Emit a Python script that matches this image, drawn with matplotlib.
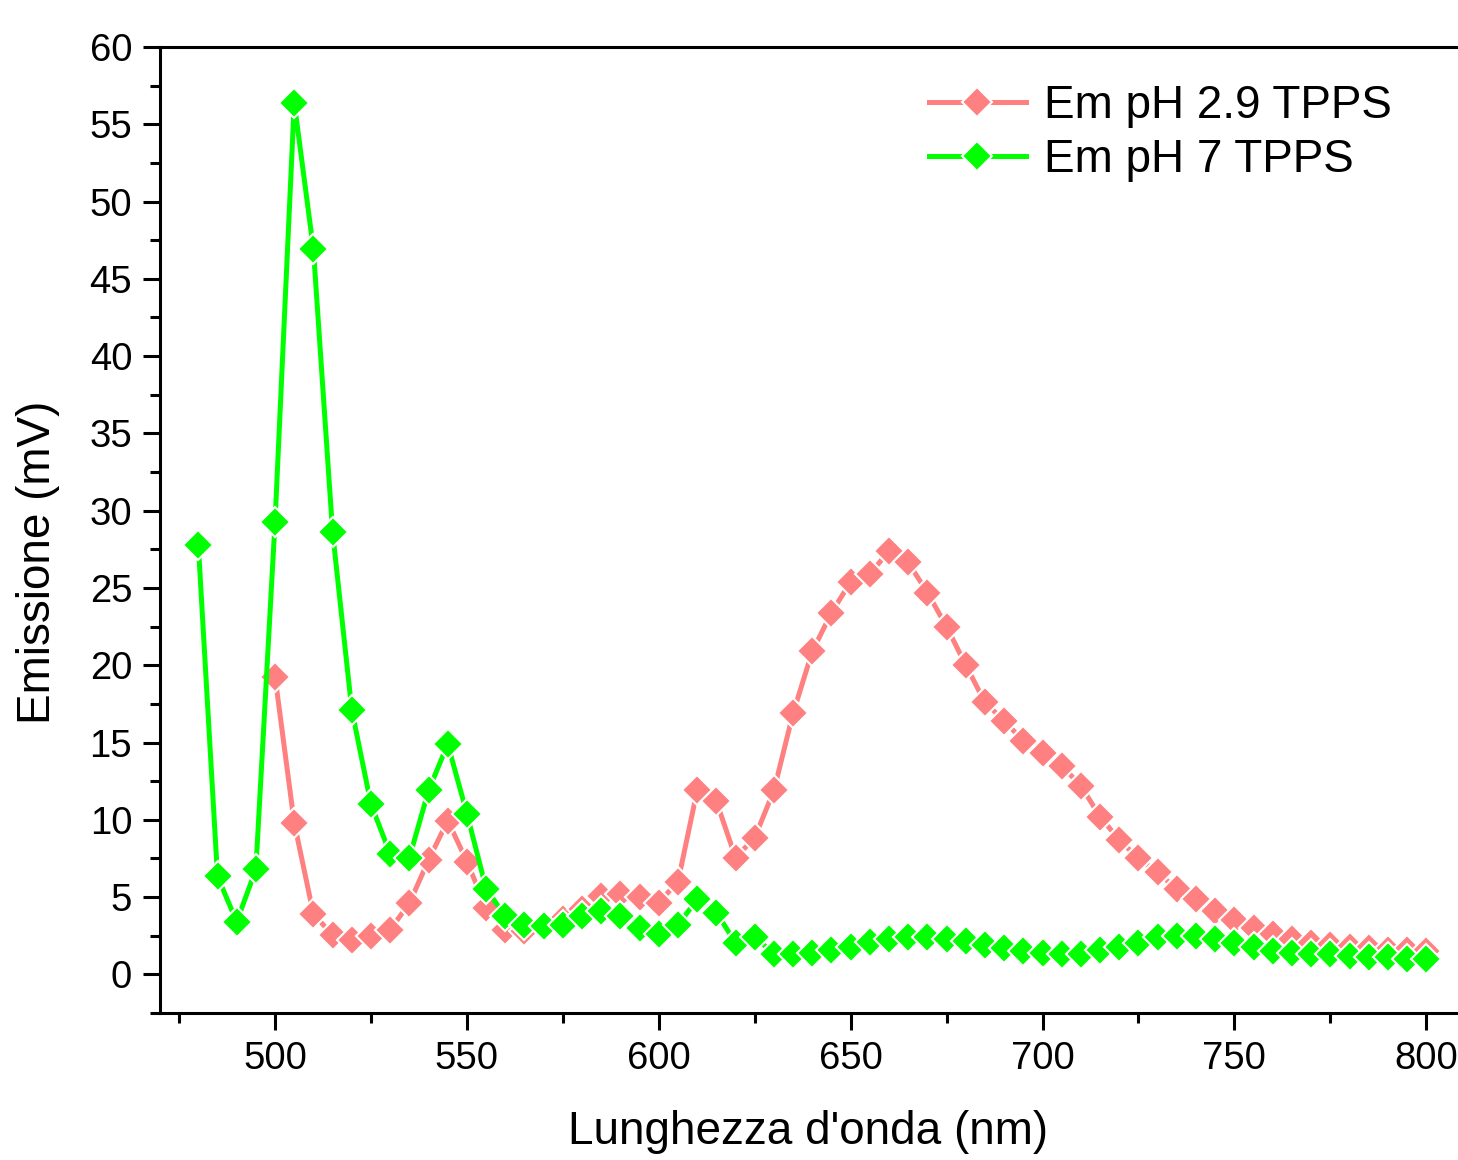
import matplotlib
matplotlib.use("Agg")
import matplotlib.pyplot as plt
from matplotlib.ticker import MultipleLocator

plt.rcParams["font.family"] = ["Liberation Sans", "DejaVu Sans"]

# emission spectra (wavelength step 5 nm)
wl_ph7 = list(range(480, 805, 5))
em_ph7 = [
    27.8, 6.35, 3.4, 6.8, 29.3, 56.4, 46.9, 28.6, 17.1, 11.0,
    7.8, 7.55, 11.9, 14.9, 10.4, 5.55, 3.75, 3.2, 3.1, 3.2,
    3.8, 4.1, 3.8, 3.0, 2.6, 3.2, 4.85, 4.0, 2.05, 2.45,
    1.3, 1.3, 1.4, 1.6, 1.8, 2.1, 2.3, 2.4, 2.4, 2.3,
    2.15, 1.9, 1.7, 1.5, 1.4, 1.3, 1.3, 1.6, 1.8, 2.05,
    2.4, 2.5, 2.5, 2.3, 2.05, 1.8, 1.5, 1.4, 1.3, 1.3,
    1.2, 1.1, 1.1, 1.0, 1.0,
]

wl_ph29 = list(range(500, 805, 5))
em_ph29 = [
    19.25, 9.8, 3.9, 2.55, 2.25, 2.5, 2.9, 4.6, 7.4, 9.95,
    7.3, 4.3, 2.9, 2.8, 3.1, 3.6, 4.2, 5.1, 5.2, 5.0,
    4.65, 6.0, 11.9, 11.2, 7.55, 8.85, 11.9, 16.9, 20.9, 23.4,
    25.4, 25.9, 27.4, 26.65, 24.7, 22.5, 20.0, 17.6, 16.4, 15.1,
    14.35, 13.5, 12.2, 10.2, 8.7, 7.5, 6.6, 5.5, 4.85, 4.1,
    3.55, 3.0, 2.6, 2.3, 2.05, 1.9, 1.8, 1.7, 1.6, 1.6,
    1.5,
]

labels = ["Em pH 2.9 TPPS", "Em pH 7 TPPS"]
colors = ["#FF8080", "#00FF00"]

fig = plt.figure(figsize=(14.58, 11.6), dpi=100)
ax = fig.add_axes([0.1097, 0.1267, 0.8896, 0.8328])

style = dict(marker="D", markersize=15.5, linewidth=3.6,
             markeredgecolor="white", markeredgewidth=1.5)
ax.plot(wl_ph29, em_ph29, color=colors[0], label=labels[0],
        markerfacecolor=colors[0], **style)
ax.plot(wl_ph7, em_ph7, color=colors[1], label=labels[1],
        markerfacecolor=colors[1], **style)

ax.set_xlim(470, 808)
ax.set_ylim(-2.5, 60)
ax.xaxis.set_major_locator(MultipleLocator(50))
ax.xaxis.set_minor_locator(MultipleLocator(25))
ax.yaxis.set_major_locator(MultipleLocator(5))
ax.yaxis.set_minor_locator(MultipleLocator(2.5))

for s in ax.spines.values():
    s.set_linewidth(2.2)
ax.spines["right"].set_visible(False)
ax.tick_params(which="major", direction="out", length=12, width=2.2,
               labelsize=27.5, pad=8)
ax.tick_params(which="minor", direction="out", length=7, width=2.2)

ax.set_xlabel("Lunghezza d'onda (nm)", fontsize=33)
ax.set_ylabel("Emissione (mV)", fontsize=33)
ax.xaxis.set_label_coords(0.5, -0.1)
ax.yaxis.set_label_coords(-0.077, 0.467)

ax.legend(loc="upper right", fontsize=33, frameon=False, numpoints=1,
          handlelength=2.1, handletextpad=0.4, labelspacing=0.22,
          borderaxespad=0.4, bbox_to_anchor=(0.978, 1.0))

fig.savefig("out.png", dpi=100)
